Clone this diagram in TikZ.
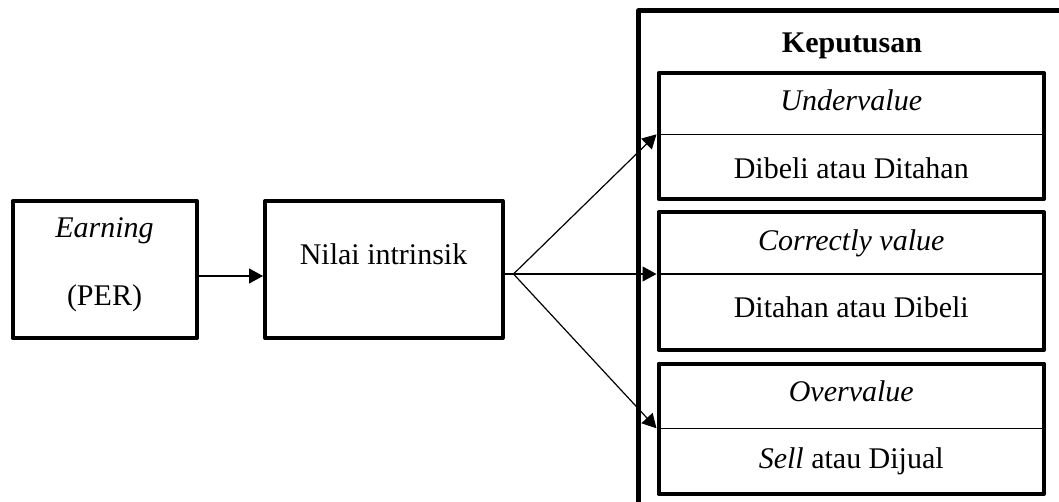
\documentclass[tikz,border=0pt]{standalone}
\usepackage{fontspec}
\setmainfont{Liberation Serif}
\usetikzlibrary{arrows.meta}
\begin{document}
\begin{tikzpicture}[x=0.5pt,y=-0.5pt,
  every node/.style={font=\fontsize{15}{18}\selectfont},
  box/.style={draw,line width=2pt,line join=round,rectangle,inner sep=0pt},
  txt/.style={inner sep=0pt,anchor=base},
  divider/.style={line width=0.6pt},
  arr/.style={line width=0.6pt,-{Triangle[length=7pt,width=7.5pt]}},
  frame/.style={line width=2.2pt,line join=round}]
\clip (0,0) rectangle (1059,502);
\fill[white] (0,0) rectangle (1059,502);
% outer frame (right and bottom sides lie outside the picture)
\draw[frame] (1080,10.5) -- (638.5,10.5) -- (638.5,520);
% left boxes
\node[box,minimum width=92.25pt,minimum height=68.5pt] (earn) at (104.75,269.5) {};
\node[box,minimum width=118.75pt,minimum height=68.5pt] (nilai) at (383.75,269.5) {};
\node[txt] (tEarn) at (104.5,238) {\itshape Earning};
\node[txt] (tPer) at (104.5,305) {(PER)};
\node[txt] (tNilai) at (383.5,264) {Nilai intrinsik};
% decision boxes
\node[txt] (tKep) at (852,53) {\bfseries Keputusan};
\node[box,minimum width=192.75pt,minimum height=62.85pt] (b1) at (851.25,136.15) {};
\node[box,minimum width=192.75pt,minimum height=68.75pt] (b2) at (851.25,281.25) {};
\node[box,minimum width=192.75pt,minimum height=65.25pt] (b3) at (851.25,428.75) {};
\coordinate (d1) at (851.25,134.3);
\coordinate (d2) at (851.25,274);
\coordinate (d3) at (851.25,428.3);
\draw[divider] (b1.west |- d1) -- (b1.east |- d1);
\draw[divider] (b2.west |- d2) -- (b2.east |- d2);
\draw[divider] (b3.west |- d3) -- (b3.east |- d3);
\node[txt] (t1a) at (851.25,110.5) {\itshape Undervalue};
\node[txt] (t1b) at (851.25,179) {Dibeli atau Ditahan};
\node[txt] (t2a) at (851.25,250) {\itshape Correctly value};
\node[txt] (t2b) at (851.25,317) {Ditahan atau Dibeli};
\node[txt] (t3a) at (851.25,401.5) {\itshape Overvalue};
\node[txt] (t3b) at (851.25,468) {\itshape Sell\upshape{} atau Dijual};
% connectors
\coordinate (ay) at (0,276);
\draw[arr] (earn.east |- ay) -- (nilai.west |- ay);
\coordinate (fan) at (513.5,274);
\draw[line width=0.6pt] (nilai.east |- fan) -- (fan);
\draw[arr] (fan) -- (b1.west |- d1);
\draw[arr] (fan) -- (b2.west |- d2);
\draw[arr] (fan) -- (b3.west |- d3);
\end{tikzpicture}
\end{document}
